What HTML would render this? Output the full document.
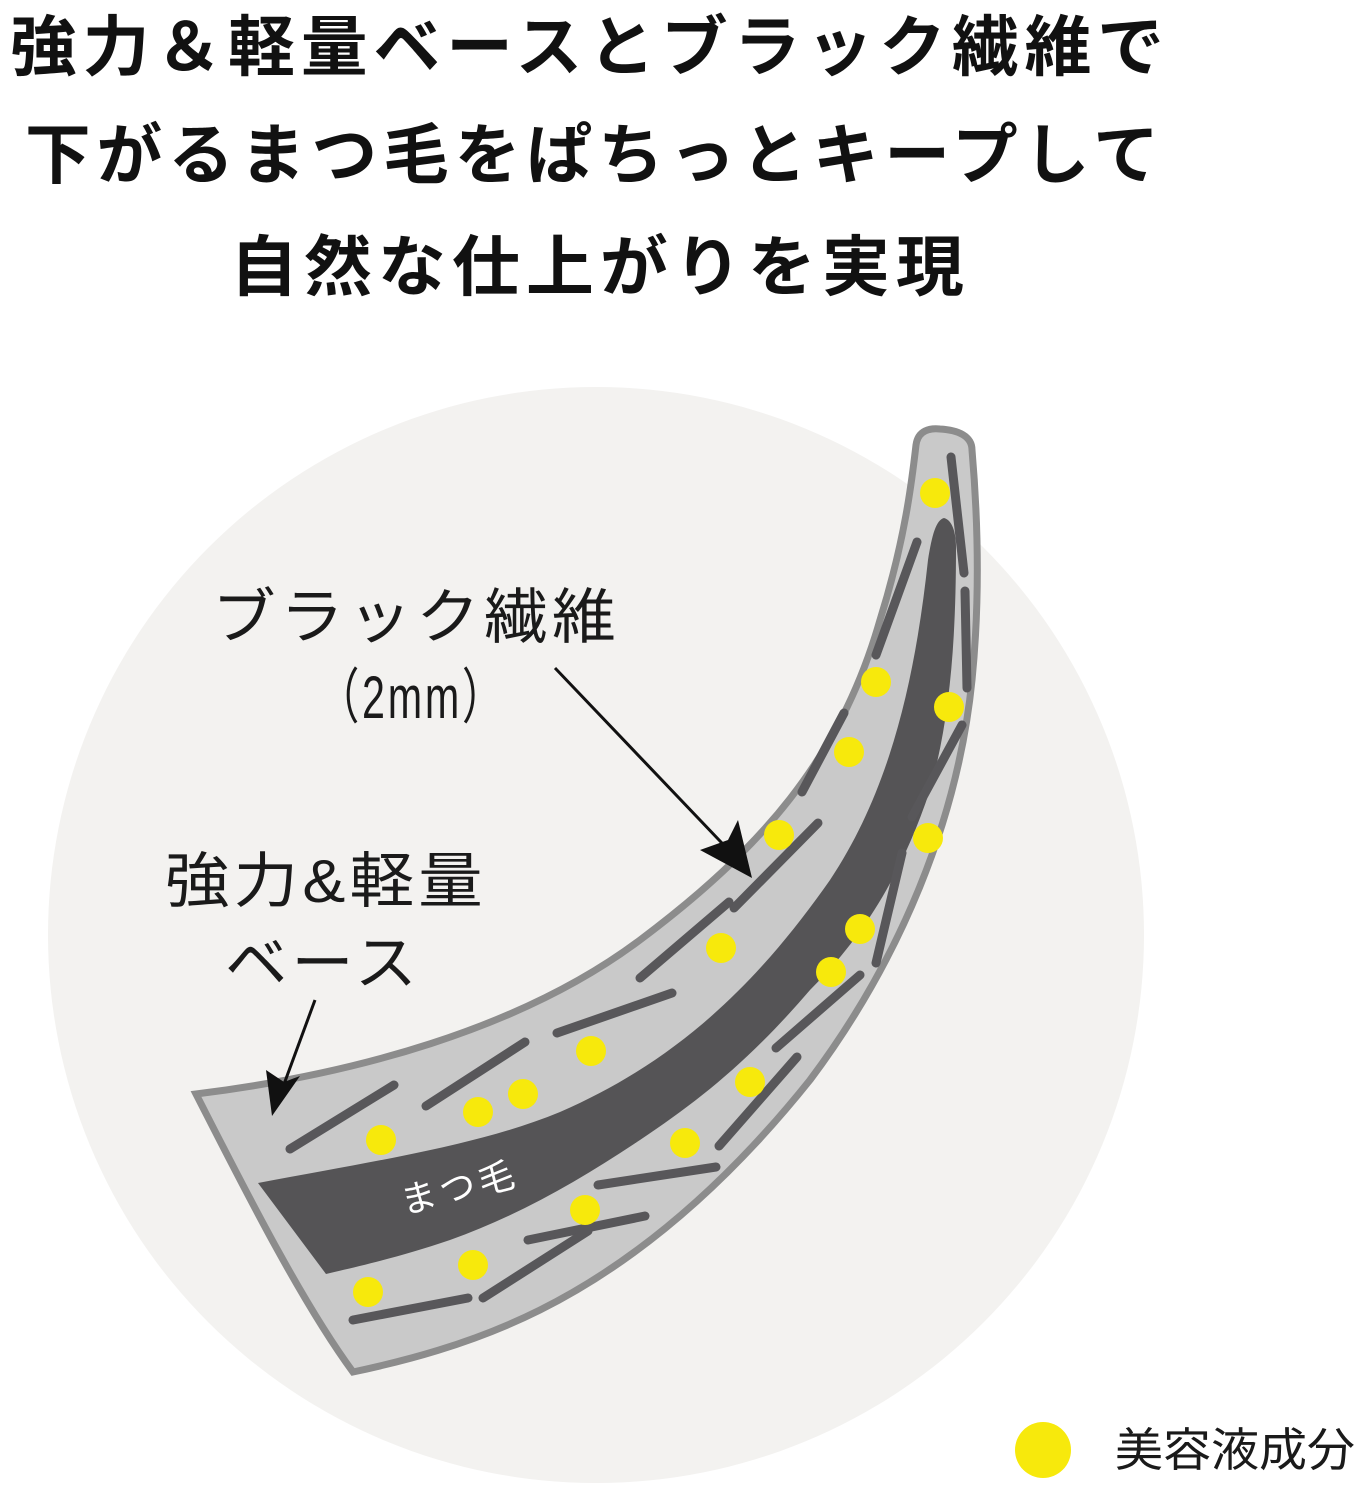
<!DOCTYPE html>
<html><head><meta charset="utf-8"><style>
html,body{margin:0;padding:0;background:#fff;width:1362px;height:1500px;overflow:hidden}
svg{display:block}
</style></head><body>
<svg width="1362" height="1500" viewBox="0 0 1362 1500" xmlns="http://www.w3.org/2000/svg" font-family="'Liberation Sans','Noto Sans CJK JP',sans-serif">
<circle cx="596" cy="935" r="548" fill="#f3f2f0"/>
<g font-weight="bold" font-size="66" fill="#111" text-anchor="middle" letter-spacing="6">
<text x="590" y="70" textLength="1160" lengthAdjust="spacingAndGlyphs">強力＆軽量ベースとブラック繊維で</text>
<text x="595" y="178" textLength="1140" lengthAdjust="spacingAndGlyphs">下がるまつ毛をぱちっとキープして</text>
<text x="600" y="290" textLength="740" lengthAdjust="spacingAndGlyphs">自然な仕上がりを実現</text>
</g>
<path d="M196,1094 C350,1075 520,1030 640,940 C760,850 840,760 880,620 C905,540 912,480 916,445 C918,430 930,428 940,429 C958,430 972,436 972,450 C978,520 980,600 972,680 C958,820 900,960 810,1080 C730,1180 640,1260 540,1310 C470,1345 400,1362 353,1372 C300,1300 240,1180 196,1094 Z" fill="#c9c9c9" stroke="#8c8c8c" stroke-width="7"/>
<path d="M258,1183 C380,1160 480,1145 560,1112 C680,1060 760,980 830,880 C890,790 915,680 928,560 C932,535 936,520 944,518 C952,520 956,532 956,548 C956,640 950,720 930,790 C900,880 860,940 810,990 C750,1060 700,1100 640,1140 C580,1180 520,1215 450,1240 C400,1257 360,1266 326,1274 Z" fill="#555456"/>
<text x="460" y="1200" font-size="36" fill="#fff" text-anchor="middle" transform="rotate(-14 460 1190)" letter-spacing="4">まつ毛</text>
<g stroke="#58575a" stroke-width="9" stroke-linecap="round">
<line x1="917" y1="542" x2="876" y2="655"/>
<line x1="951" y1="457" x2="964" y2="573"/>
<line x1="965" y1="591" x2="967" y2="688"/>
<line x1="962" y1="725" x2="912" y2="817"/>
<line x1="902" y1="853" x2="876" y2="963"/>
<line x1="860" y1="975" x2="776" y2="1048"/>
<line x1="797" y1="1057" x2="719" y2="1146"/>
<line x1="716" y1="1167" x2="598" y2="1185"/>
<line x1="645" y1="1216" x2="528" y2="1240"/>
<line x1="588" y1="1231" x2="483" y2="1298"/>
<line x1="468" y1="1298" x2="353" y2="1320"/>
<line x1="818" y1="823" x2="734" y2="908"/>
<line x1="729" y1="902" x2="640" y2="978"/>
<line x1="672" y1="993" x2="557" y2="1033"/>
<line x1="525" y1="1042" x2="426" y2="1106"/>
<line x1="394" y1="1085" x2="290" y2="1149"/>
<line x1="844" y1="713" x2="802" y2="792"/>
</g>
<g fill="#f7e90c">
<circle cx="935" cy="493" r="15"/><circle cx="876" cy="682" r="15"/><circle cx="949" cy="707" r="15"/>
<circle cx="849" cy="752" r="15"/><circle cx="779" cy="835" r="15"/><circle cx="928" cy="838" r="15"/>
<circle cx="860" cy="929" r="15"/><circle cx="831" cy="972" r="15"/><circle cx="721" cy="948" r="15"/>
<circle cx="591" cy="1051" r="15"/><circle cx="523" cy="1094" r="15"/><circle cx="478" cy="1112" r="15"/>
<circle cx="381" cy="1140" r="15"/><circle cx="750" cy="1082" r="15"/><circle cx="685" cy="1143" r="15"/>
<circle cx="585" cy="1210" r="15"/><circle cx="473" cy="1265" r="15"/><circle cx="368" cy="1292" r="15"/>
</g>
<g stroke="#111" stroke-width="3">
<line x1="555" y1="668" x2="740" y2="862"/>
<line x1="315" y1="1000" x2="280" y2="1095"/>
</g>
<polygon points="752,878 700,850 728,840 738,820" fill="#111"/>
<polygon points="272,1116 266,1070 284,1082 300,1076" fill="#111"/>
<g font-size="60" fill="#1a1a1a" letter-spacing="4">
<text x="212" y="638" textLength="408" lengthAdjust="spacingAndGlyphs">ブラック繊維</text>
<text x="318" y="718" textLength="188" lengthAdjust="spacingAndGlyphs">（2mm）</text>
<text x="165" y="902" textLength="322" lengthAdjust="spacingAndGlyphs">強力&amp;軽量</text>
<text x="225" y="984" textLength="196" lengthAdjust="spacingAndGlyphs">ベース</text>
</g>
<circle cx="1043" cy="1450" r="28" fill="#f7e90c"/>
<text x="1115" y="1466" font-size="46" fill="#1a1a1a" textLength="240" lengthAdjust="spacingAndGlyphs">美容液成分</text>
</svg>
</body></html>
